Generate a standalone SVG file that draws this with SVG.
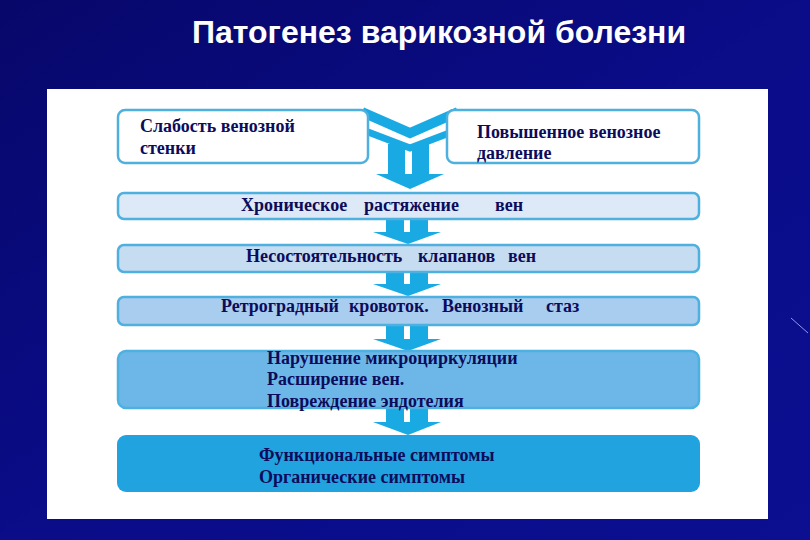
<svg xmlns="http://www.w3.org/2000/svg" width="810" height="540" viewBox="0 0 810 540">
<defs>
<linearGradient id="bg" x1="0" y1="0" x2="1" y2="1">
<stop offset="0" stop-color="#07076a"/>
<stop offset="0.5" stop-color="#0a0c88"/>
<stop offset="1" stop-color="#0b0f90"/>
</linearGradient>
<style>
.t{font-family:"Liberation Serif","Times New Roman",serif;font-weight:bold;font-size:18px;fill:#0c0c5c}
.title{font-family:"Liberation Sans",Arial,sans-serif;font-weight:bold;font-size:32px;fill:#ffffff}
.c{fill:#1aaae3;stroke:none}
.band{fill:none;stroke:#1aaae3;stroke-linejoin:miter}
.bx{stroke:#4eb0de;stroke-width:2.5}
</style>
</defs>
<rect x="0" y="0" width="810" height="540" fill="url(#bg)"/>
<line x1="791" y1="318" x2="808" y2="333" stroke="#b8b8ff" stroke-width="1" opacity="0.8"/>
<text class="title" x="192" y="43">Патогенез варикозной болезни</text>
<rect x="47" y="89" width="721" height="430" fill="#ffffff"/>

<g id="connectors">
<polyline class="band" stroke-width="10" points="362,112 410,133 458,112"/>
<polyline class="band" stroke-width="7" points="368,132 410,148 452,132"/>
<rect class="c" x="388" y="144" width="17" height="31"/>
<rect class="c" x="412" y="144" width="17" height="31"/>
<polygon class="c" points="376,174 444,174 410,189"/>

<rect class="c" x="386" y="219" width="18" height="14"/>
<rect class="c" x="410" y="219" width="18" height="14"/>
<polygon class="c" points="373,232 441,232 408,244"/>

<rect class="c" x="386" y="271" width="18" height="14"/>
<rect class="c" x="410" y="271" width="18" height="14"/>
<polygon class="c" points="373,284 441,284 408,296"/>

<rect class="c" x="386" y="324" width="18" height="16"/>
<rect class="c" x="410" y="324" width="18" height="16"/>
<polygon class="c" points="373,339 441,339 408,351"/>

<rect class="c" x="386" y="407" width="18" height="16"/>
<rect class="c" x="410" y="407" width="18" height="16"/>
<polygon class="c" points="373,422 441,422 408,435"/>
</g>

<g id="n1">
<rect class="bx" x="118" y="110" width="250" height="53" rx="7" fill="#ffffff"/>
<text class="t" x="140" y="132">Слабость венозной</text>
<text class="t" x="140" y="154">стенки</text>
</g>
<g id="n2">
<rect class="bx" x="447" y="110" width="252" height="53" rx="7" fill="#ffffff"/>
<text class="t" x="477" y="138">Повышенное  венозное</text>
<text class="t" x="477" y="159">давление</text>
</g>
<g id="n3">
<rect class="bx" x="118" y="193" width="581" height="26" rx="6" fill="#dde9f6"/>
<text class="t" y="211"><tspan x="241">Хроническое</tspan><tspan x="364">растяжение</tspan><tspan x="495">вен</tspan></text>
</g>
<g id="n4">
<rect class="bx" x="118" y="245" width="581" height="27" rx="6" fill="#c6dcf1"/>
<text class="t" y="262"><tspan x="246">Несостоятельность</tspan><tspan x="418">клапанов</tspan><tspan x="508">вен</tspan></text>
</g>
<g id="n5">
<rect class="bx" x="118" y="297" width="581" height="28" rx="6" fill="#a9cdef"/>
<text class="t" y="312"><tspan x="221">Ретроградный</tspan><tspan x="349">кровоток.</tspan><tspan x="442">Венозный</tspan><tspan x="546">стаз</tspan></text>
</g>
<g id="n6">
<rect class="bx" x="118" y="351" width="581" height="57" rx="8" fill="#6db7e8"/>
<text class="t" x="267" y="364">Нарушение микроциркуляции</text>
<text class="t" x="267" y="385">Расширение вен.</text>
<text class="t" x="267" y="407">Повреждение эндотелия</text>
</g>
<g id="n7">
<rect x="117" y="435" width="583" height="57" rx="9" fill="#21a3e0"/>
<text class="t" x="259" y="461">Функциональные симптомы</text>
<text class="t" x="259" y="483">Органические симптомы</text>
</g>
</svg>
